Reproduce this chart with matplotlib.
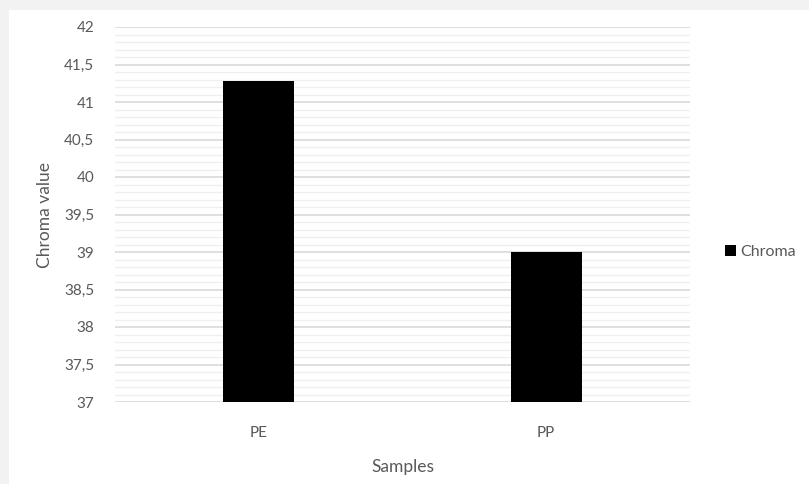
import numpy as np
import matplotlib.pyplot as plt
from matplotlib.patches import Rectangle
from matplotlib.ticker import MultipleLocator, FuncFormatter

# data
samples = ['PE', 'PP']
chroma = [41.28, 39.0]
y_ticks = [37, 37.5, 38, 38.5, 39, 39.5, 40, 40.5, 41, 41.5, 42]

plt.rcParams['font.family'] = ['Lato', 'DejaVu Sans']
txt = '#595959'

fig = plt.figure(figsize=(8.09, 4.84), dpi=100)
fig.patch.set_facecolor('#f2f2f2')
# white chart area
fig.add_artist(Rectangle((9 / 809, 0), 1, 1 - 10 / 484, transform=fig.transFigure,
                         facecolor='white', edgecolor='none', zorder=0))

ax = fig.add_axes([115 / 809, 1 - 402 / 484, 575 / 809, 375 / 484])
ax.set_facecolor('none')

x = np.arange(len(samples))
ax.bar(x, chroma, width=0.247, bottom=0, color='black', label='Chroma', zorder=3)
ax.set_xlim(-0.5, 1.5)
ax.set_ylim(37, 42)
ax.set_yticks(y_ticks)
ax.yaxis.set_minor_locator(MultipleLocator(0.1))
ax.yaxis.set_major_formatter(FuncFormatter(lambda v, p: ('%g' % v).replace('.', ',')))
ax.grid(axis='y', which='major', color='#d9d9d9', lw=1.2, zorder=0)
ax.grid(axis='y', which='minor', color='#efefef', lw=0.9, zorder=0)
ax.set_xticks(x)
ax.set_xticklabels(samples)
for s in ax.spines.values():
    s.set_visible(False)
ax.tick_params(axis='both', which='both', length=0, colors=txt, labelsize=11)
ax.tick_params(axis='y', pad=15)
ax.tick_params(axis='x', pad=17)

ax.set_ylabel('Chroma value', color=txt, fontsize=12.5, labelpad=8)
ax.set_xlabel('Samples', color=txt, fontsize=12.5, labelpad=14)

leg = ax.legend(loc='center left', bbox_to_anchor=(1.035, 0.4), frameon=False,
                handlelength=0.7, handleheight=0.7, handletextpad=0.3, fontsize=11.5)
for t in leg.get_texts():
    t.set_color(txt)

fig.savefig('out.png', dpi=100, facecolor=fig.get_facecolor())
